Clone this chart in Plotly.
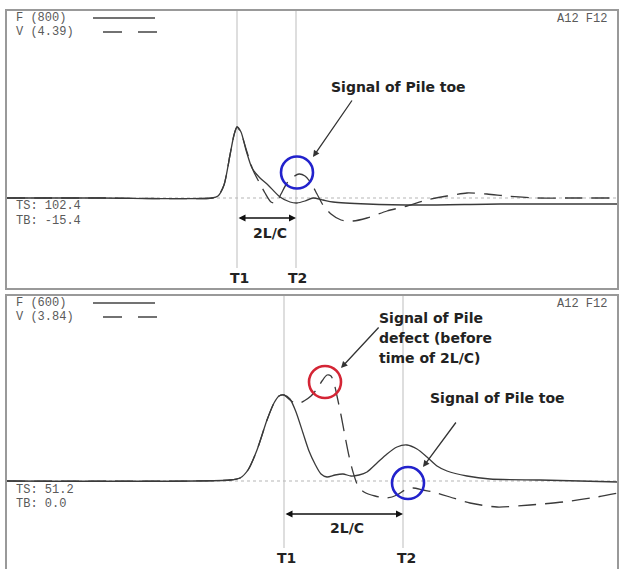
import numpy as np
import plotly.graph_objects as go

W, H = 619, 569

# ---- Record A: pile toe reflection only (time in ms, amplitude in scaled units) ----
t_f_a = [0, 4.65, 10.25, 10.55, 10.85, 11.15, 11.35, 11.5, 11.7, 11.95, 12.25, 12.65,
         13.05, 13.65, 14.15, 14.5, 14.9, 15.3, 15.8, 16.3, 18.0, 20.65, 24.65, 30.55]
f_a = [0, 0, 0, 20, 130, 430, 630, 710, 660, 480, 300, 200,
       130, 10, -40, -50, -30, 0, -20, -40, -60, -70, -60, -60]

t_v_a = [0, 4.65, 10.25, 10.55, 10.85, 11.15, 11.35, 11.5, 11.7, 12.0, 12.3, 12.6, 12.9,
         13.2, 13.45, 13.7, 14.0, 14.3, 14.6, 14.9, 15.2, 15.5, 15.8, 16.2, 16.7, 17.3,
         18.0, 19.0, 20.0, 21.0, 22.0, 23.0, 24.0, 25.0, 26.5, 28.0, 30.55]
v_a = [0, 0, 0, 20, 130, 430, 630, 710, 650, 460, 280, 160, 50,
       -40, -50, 40, 150, 210, 240, 220, 150, 40, -70, -160, -220, -230,
       -200, -130, -80, -20, 20, 50, 40, 20, 0, 0, 0]

# ---- Record B: defect reflection before 2L/C ----
t_f_b = [0, 11.15, 11.65, 12.05, 12.5, 13.0, 13.35, 13.6, 13.85, 14.15, 14.45, 14.8,
         15.1, 15.4, 15.7, 16.0, 16.4, 16.8, 17.2, 17.6, 18.0, 18.5, 19.0, 19.5, 20.0,
         20.5, 21.0, 21.5, 22.0, 23.0, 24.15, 26.65, 28.65, 30.55]
f_b = [0, 10, 30, 110, 310, 610, 780, 850, 860, 820, 690, 480,
       300, 170, 70, 40, 60, 70, 50, 60, 90, 180, 270, 340, 360,
       320, 240, 150, 100, 50, 20, 10, 0, -10]

t_v_b = [0, 11.15, 11.65, 12.05, 12.5, 13.0, 13.35, 13.6, 13.85, 14.15, 14.5, 14.85,
         15.2, 15.5, 15.75, 16.0, 16.2, 16.35, 16.5, 16.7, 16.9, 17.1, 17.3, 17.55,
         17.85, 18.4, 19.0, 19.5, 19.9, 20.3, 20.8, 21.3, 22.15, 23.15, 24.5, 26.15,
         27.8, 29.5, 30.55]
v_b = [0, 10, 30, 110, 310, 610, 780, 850, 860, 810, 770, 800,
       850, 920, 1000, 1060, 1050, 980, 850, 660, 450, 250, 90, -50,
       -110, -150, -170, -140, -90, -70, -90, -110, -160, -220, -260, -240,
       -210, -160, -120]

# Marker times (ms)
t1_a, t2_a = 11.5, 14.45
t1_b, t2_b = 13.85, 19.8
t_defect_b = 15.9

legend_a = ["F (800)", "V (4.39)"]
legend_b = ["F (600)", "V (3.84)"]
stats_a = ["TS: 102.4", "TB: -15.4"]
stats_b = ["TS: 51.2", "TB: 0.0"]
channel_label = "A12 F12"

# ---- layout helpers (pixel -> paper) ----
def px(x):
    return x / W

def py(y):
    return 1 - y / H

MS_PER_PX = 1 / 20.0
AMP_PER_PX = 10.0

CURVE = "#3a3a3a"
MONO = dict(family="Liberation Mono, monospace", size=12, color="#5a5a5a")
BOLD = dict(family="DejaVu Sans, Arial, sans-serif", size=14, color="#222222", weight="bold")
DASH = "18px,9px"

fig = go.Figure()

def add_curves(t_f, f, t_v, v, xa, ya):
    fig.add_trace(go.Scatter(x=t_f, y=f, mode="lines", xaxis=xa, yaxis=ya,
                             line=dict(color=CURVE, width=1.3, shape="spline", smoothing=0.7),
                             hoverinfo="skip", showlegend=False))
    fig.add_trace(go.Scatter(x=t_v, y=v, mode="lines", xaxis=xa, yaxis=ya,
                             line=dict(color=CURVE, width=1.3, dash=DASH, shape="spline", smoothing=0.7),
                             hoverinfo="skip", showlegend=False))

add_curves(t_f_a, f_a, t_v_a, v_a, "x", "y")
add_curves(t_f_b, f_b, t_v_b, v_b, "x2", "y2")

shapes = []
annotations = []

# panel frames
for top, bottom in [(10, 289), (295, 580)]:
    shapes.append(dict(type="rect", xref="paper", yref="paper",
                       x0=px(6), x1=px(618), y0=py(bottom), y1=py(top),
                       line=dict(color="#999999", width=2), layer="above"))

def mono_text(x, y, txt, anchor="left"):
    annotations.append(dict(x=px(x), y=py(y), xref="paper", yref="paper", text=txt,
                            showarrow=False, font=MONO, xanchor=anchor, yanchor="middle",
                            borderpad=0))

def panel(xr, yr, t1, t2, y_top_px, y_line_end_px, y_label_px, y_arrow_px,
          y_arrow_label_px, base_px, legend, stats, y_leg, y_stats, label_dx=(2, 2),
          arrow_label_dx=0):
    # baseline
    shapes.append(dict(type="line", xref=xr + " domain", yref=yr, x0=0, x1=1, y0=0, y1=0,
                       line=dict(color="#b5b5b5", width=1, dash="dot"), layer="below"))
    # T1 / T2 verticals and labels
    for t, name, dx in [(t1, "T1", label_dx[0]), (t2, "T2", label_dx[1])]:
        shapes.append(dict(type="line", xref=xr, yref="paper", x0=t, x1=t,
                           y0=py(y_line_end_px), y1=py(y_top_px),
                           line=dict(color="#bdbdbd", width=1), layer="below"))
        annotations.append(dict(x=t, y=py(y_label_px), xref=xr, yref="paper", text=name,
                                showarrow=False, font=BOLD, xanchor="center",
                                yanchor="middle", xshift=dx))
    # 2L/C double arrow
    y_arr = (base_px - y_arrow_px) * AMP_PER_PX
    annotations.append(dict(x=t2, y=y_arr, xref=xr, yref=yr, ax=t1, ay=y_arr,
                            axref=xr, ayref=yr, text="", showarrow=True,
                            arrowhead=2, startarrowhead=2, arrowside="end+start",
                            arrowsize=1, startarrowsize=1, arrowwidth=1.4,
                            arrowcolor="#111111"))
    annotations.append(dict(x=(t1 + t2) / 2, y=py(y_arrow_label_px), xref=xr, yref="paper",
                            text="2L/C", showarrow=False, font=BOLD, xanchor="center",
                            yanchor="middle", xshift=arrow_label_dx))
    # legend text and line samples
    for i, txt in enumerate(legend):
        mono_text(15, y_leg[i], txt)
    shapes.append(dict(type="line", xref="paper", yref="paper", x0=px(93), x1=px(155),
                       y0=py(y_leg[0]), y1=py(y_leg[0]), line=dict(color="#444444", width=1.3)))
    shapes.append(dict(type="line", xref="paper", yref="paper", x0=px(103), x1=px(157),
                       y0=py(y_leg[1]), y1=py(y_leg[1]),
                       line=dict(color="#444444", width=1.3, dash="19px,16px")))
    mono_text(608, y_leg[0] + 1, channel_label, "right")
    for i, txt in enumerate(stats):
        mono_text(15, y_stats[i], txt)

panel("x", "y", t1_a, t2_a, 10, 268, 278, 218, 233, 198, legend_a, stats_a,
      (18, 32), (206, 221), label_dx=(2, 1), arrow_label_dx=3)
panel("x2", "y2", t1_b, t2_b, 295, 548, 558, 514, 528, 481, legend_b, stats_b,
      (303, 317), (490, 504), label_dx=(2, 3), arrow_label_dx=3)

# highlight circles around reflection features
R_PX = 16
def ring(xr, yr, t, t_v, v, dy_px, color):
    cy = float(np.interp(t, t_v, v)) + dy_px * AMP_PER_PX
    rx, ry = R_PX * MS_PER_PX, R_PX * AMP_PER_PX
    shapes.append(dict(type="circle", xref=xr, yref=yr, x0=t - rx, x1=t + rx,
                       y0=cy - ry, y1=cy + ry, line=dict(color=color, width=2.6),
                       layer="above"))

ring("x", "y", t2_a + 0.05, t_v_a, v_a, 2.5, "#2222cc")
ring("x2", "y2", t_defect_b, t_v_b, v_b, -4.6, "#d42535")
ring("x2", "y2", t2_b + 0.25, t_v_b, v_b, 6.2, "#2222cc")

# callout texts with pointer arrows
def callout_arrow(tip, tail):
    annotations.append(dict(x=px(tip[0]), y=py(tip[1]), xref="paper", yref="paper",
                            ax=tail[0] - tip[0], ay=tail[1] - tip[1], axref="pixel",
                            ayref="pixel", text="", showarrow=True, arrowhead=2,
                            arrowsize=1, arrowwidth=1.3, arrowcolor="#333333"))

def label(x, y, txt, anchor="center"):
    annotations.append(dict(x=px(x), y=py(y), xref="paper", yref="paper", text=txt,
                            showarrow=False, font=BOLD, xanchor=anchor, yanchor="middle",
                            borderpad=0))

label(398, 87, "Signal of Pile toe")
callout_arrow((313, 157), (353, 99))

label(378, 318, "Signal of Pile", "left")
label(378, 338, "defect (before", "left")
label(378, 358, "time of 2L/C)", "left")
callout_arrow((341, 368), (380, 326))

label(497, 398, "Signal of Pile toe")
callout_arrow((423, 467), (457, 421))

axis_common = dict(showgrid=False, zeroline=False, showticklabels=False, ticks="",
                   showline=False, fixedrange=True)

fig.update_layout(
    width=W, height=H,
    margin=dict(l=0, r=0, t=0, b=0),
    paper_bgcolor="white", plot_bgcolor="white",
    xaxis=dict(domain=[px(7), px(618)], range=[0, 611 * MS_PER_PX], **axis_common),
    yaxis=dict(domain=[py(289), py(10)], range=[-910, 1880], **axis_common),
    xaxis2=dict(domain=[px(7), px(618)], range=[0, 611 * MS_PER_PX], anchor="y2",
                **axis_common),
    yaxis2=dict(domain=[0, py(295)], range=[-880, 1860], anchor="x2", **axis_common),
    shapes=shapes,
    annotations=annotations,
    showlegend=False,
)

fig.write_html("out.html")
